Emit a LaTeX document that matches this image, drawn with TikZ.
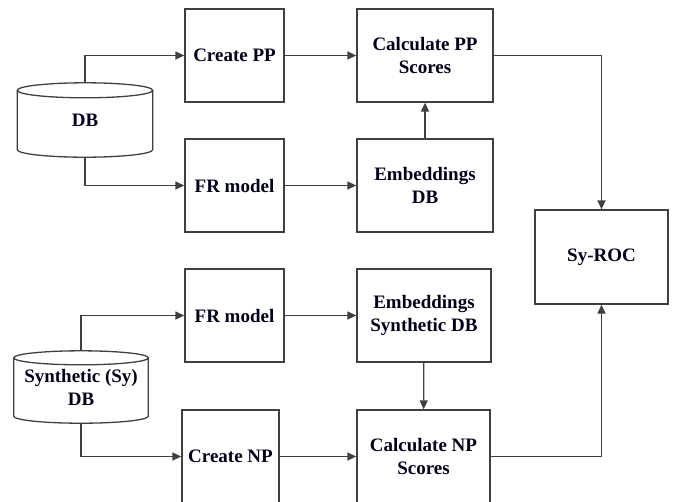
\documentclass[tikz,border=0pt]{standalone}
\usepackage{fontspec}
\setmainfont{Liberation Serif}
\usetikzlibrary{arrows.meta,calc}

\tikzset{
  wire/.style={draw=black!75, line width=1.3pt},
  flow/.style={wire, -{Triangle[length=9pt,width=8pt]}},
  stepbox/.style={wire, fill=white, rectangle, minimum height=93pt,
    text=black!90!blue, font=\bfseries\fontsize{19}{23}\selectfont,
    align=center, inner sep=2pt},
  dbslot/.style={rectangle, inner sep=0pt, text=black!90!blue,
    font=\bfseries\fontsize{19}{23}\selectfont, align=center},
}

% cylinder outline drawn around a named node: #1 = node, #2 = ellipse y-radius
\newcommand{\dbcylinder}[2]{%
  \draw[wire]
    let \p1=(#1.north west), \p2=(#1.south east),
        \n1={(\x2-\x1)/2}, \n2={#2} in
    (\x1,\y1-\n2) -- (\x1,\y2+\n2)
    arc[start angle=180, end angle=360, x radius=\n1, y radius=\n2]
    -- (\x2,\y1-\n2)
    (\x1+\n1,\y1-\n2) ellipse[x radius=\n1, y radius=\n2];
}

\begin{document}
\begin{tikzpicture}[x=1pt, y=-1pt]
\useasboundingbox (0,0) rectangle (676,501);
\clip (0,0) rectangle (676,501);

% upper branch
\node[dbslot, minimum width=135pt, minimum height=74pt] (db) at (85,120) {DB};
\dbcylinder{db}{7.5pt}
\node[stepbox, minimum width=99pt]  (cpp)  at (234.5,55.5)  {Create PP};
\node[stepbox, minimum width=99pt]  (fr1)  at (234.5,185.5) {FR model};
\node[stepbox, minimum width=136pt] (calcpp) at (425,55.5)  {Calculate PP\\Scores};
\node[stepbox, minimum width=136pt] (embdb)  at (425,185.5) {Embeddings\\DB};

% result
\node[stepbox, minimum width=133pt, minimum height=94pt] (roc) at (601.5,257) {Sy-ROC};

% lower branch
\node[dbslot, minimum width=134pt, minimum height=72pt] (syn) at (81,387) {Synthetic (Sy)\\DB};
\dbcylinder{syn}{7pt}
\node[stepbox, minimum width=99pt]  (fr2)    at (234.5,315.5) {FR model};
\node[stepbox, minimum width=134pt] (embsyn) at (424,315.5)   {Embeddings\\Synthetic DB};
\node[stepbox, minimum width=97pt]  (cnp)    at (230.5,456.5) {Create NP};
\node[stepbox, minimum width=133pt] (calcnp) at (423.5,456.5) {Calculate NP\\Scores};

% connectors
\draw[flow] (db.north) |- (cpp.west);
\draw[flow] (db.south) |- (fr1.west);
\draw[flow] (cpp) -- (calcpp);
\draw[flow] (fr1) -- (embdb);
\draw[flow] (embdb) -- (calcpp);
\draw[flow] (calcpp.east) -| (roc.north);

\draw[flow] (syn.north) |- (fr2.west);
\draw[flow] (syn.south) |- (cnp.west);
\draw[flow] (fr2) -- (embsyn);
\draw[flow] (embsyn) -- (calcnp);
\draw[flow] (cnp) -- (calcnp);
\draw[flow] (calcnp.east) -| (roc.south);
\end{tikzpicture}
\end{document}
